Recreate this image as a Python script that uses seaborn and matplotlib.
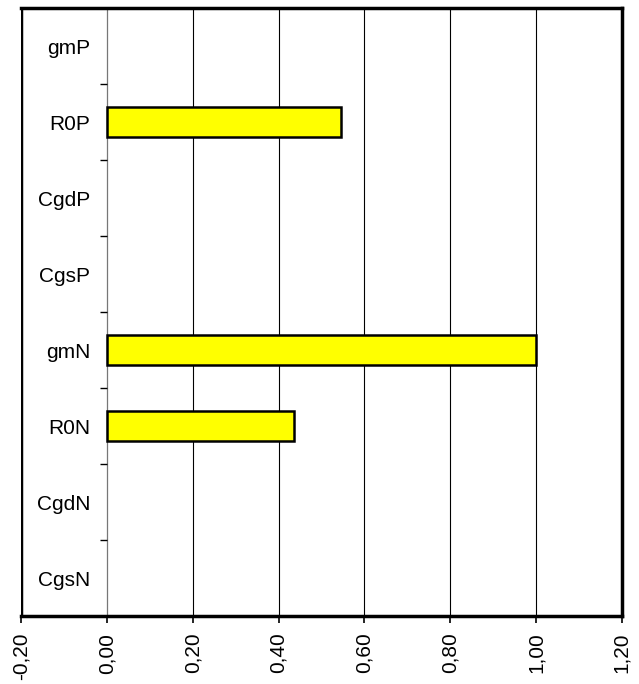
import pandas as pd
import matplotlib
matplotlib.use("Agg")
import matplotlib.pyplot as plt
from matplotlib.ticker import FixedLocator, FuncFormatter
import seaborn as sns

# categories top -> bottom, and their values
params = ["gmP", "R0P", "CgdP", "CgsP", "gmN", "R0N", "CgdN", "CgsN"]
values = [0.0, 0.545, 0.0, 0.0, 1.0, 0.435, 0.0, 0.0]
xticks = [-0.2, 0.0, 0.2, 0.4, 0.6, 0.8, 1.0, 1.2]

sns.set_style("white")
plt.rcParams["font.family"] = ["Liberation Sans", "DejaVu Sans"]
plt.rcParams["text.color"] = "black"
plt.rcParams["xtick.color"] = "black"
plt.rcParams["ytick.color"] = "black"


def main():
    df = pd.DataFrame({"param": params, "value": values})

    fig = plt.figure(figsize=(6.39, 6.84), dpi=100)
    ax = fig.add_axes([0.033, 0.0994, 0.94, 0.8886])

    sns.barplot(data=df, x="value", y="param", orient="h", color="#FFFF00",
                edgecolor="black", linewidth=1.8, width=0.4, saturation=1, ax=ax)
    # zero-valued bars show nothing
    for p in ax.patches:
        if abs(p.get_width()) < 1e-9:
            p.set_visible(False)

    ax.set_xlim(-0.2, 1.2)
    ax.set_ylim(len(params) - 0.5, -0.5)
    ax.set_xticks(xticks)
    ax.xaxis.set_major_formatter(FuncFormatter(lambda v, p: f"{v:.2f}".replace(".", ",")))
    ax.tick_params(axis="x", direction="out", length=5, width=1.2, pad=7,
                   labelsize=15, labelrotation=90, bottom=True, color="black")

    # vertical gridlines
    for v in xticks[2:-1]:
        ax.axvline(v, color="black", lw=0.8, zorder=0)

    # y axis sits at x = 0
    ax.spines["left"].set_position(("data", 0))
    ax.spines["left"].set_color("#777777")
    ax.spines["left"].set_linewidth(0.9)
    ax.spines["left"].set_zorder(0)
    ax.axvline(-0.2, color="black", lw=2.5, zorder=5)
    for s in ["top", "right", "bottom"]:
        ax.spines[s].set_color("black")
        ax.spines[s].set_linewidth(2.5)

    ax.yaxis.set_minor_locator(FixedLocator([i + 0.5 for i in range(len(params) - 1)]))
    ax.tick_params(axis="y", which="major", length=0, pad=12, labelsize=15)
    ax.tick_params(axis="y", which="minor", left=True, direction="out",
                   length=5, width=1, color="black")

    ax.set_xlabel("")
    ax.set_ylabel("")

    fig.savefig("out.png", dpi=100)
    plt.close(fig)


if __name__ == "__main__":
    main()
